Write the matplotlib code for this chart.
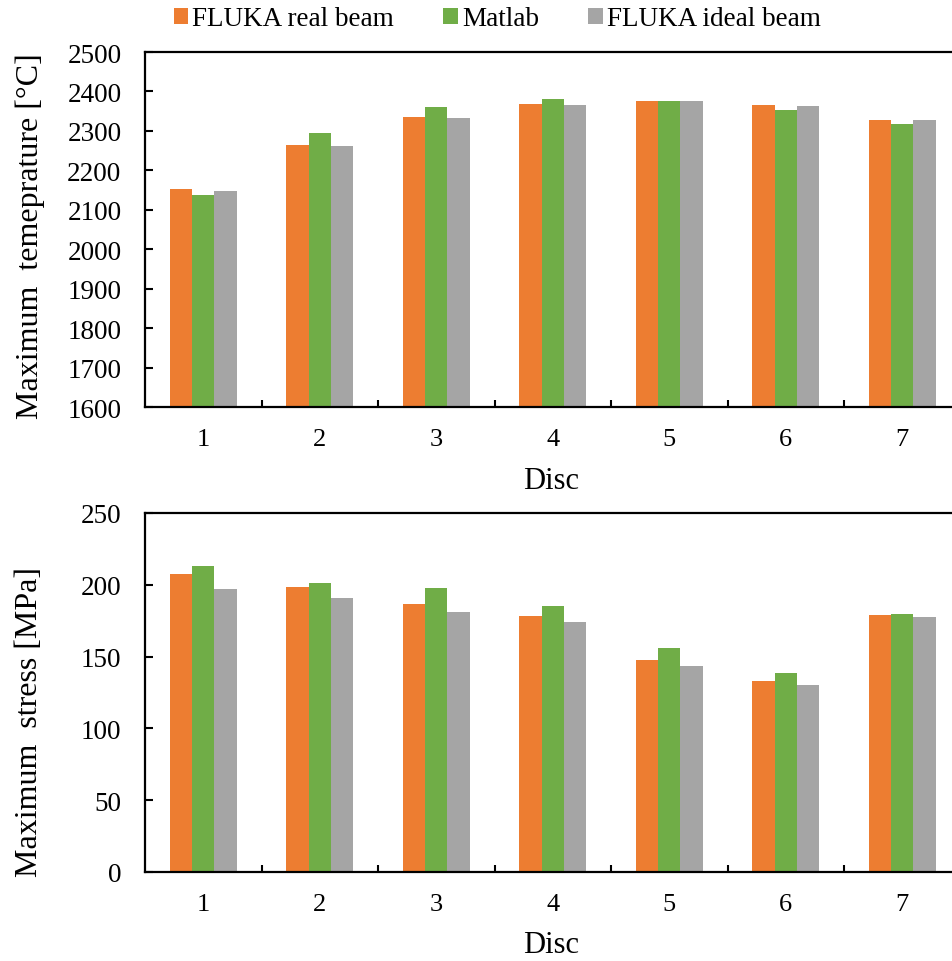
import numpy as np
import matplotlib
matplotlib.use("Agg")
import matplotlib.pyplot as plt
from matplotlib.patches import Patch
from matplotlib.ticker import FixedLocator, MultipleLocator

plt.rcParams["font.family"] = ["Liberation Serif", "DejaVu Serif"]

# ---- data ----
discs = [1, 2, 3, 4, 5, 6, 7]
series_names = ["FLUKA real beam", "Matlab", "FLUKA ideal beam"]
colors = ["#ED7D31", "#70AD47", "#A5A5A5"]

temp_fluka_real = [2153, 2263, 2334, 2367, 2377, 2365, 2328]
temp_matlab = [2137, 2294, 2360, 2382, 2377, 2354, 2317]
temp_fluka_ideal = [2148, 2261, 2332, 2365, 2377, 2362, 2328]

stress_fluka_real = [207.5, 198.2, 186.8, 178.4, 147.5, 132.9, 179.1]
stress_matlab = [212.8, 201.2, 197.5, 185.2, 155.7, 138.9, 179.8]
stress_fluka_ideal = [196.8, 190.8, 181.4, 173.8, 143.8, 129.9, 177.7]

W, H = 952, 962
fig = plt.figure(figsize=(W / 100, H / 100), dpi=100)


def px_axes(left, top, right, bottom):
    return fig.add_axes([left / W, 1 - bottom / H, (right - left) / W, (bottom - top) / H])


def draw_bars(ax, series, ylim, ystep):
    x = np.array(discs, dtype=float)
    bw = 0.193
    for i, (vals, c) in enumerate(zip(series, colors)):
        ax.bar(x + (i - 1) * bw, vals, width=bw, color=c, linewidth=0, zorder=2)
    ax.set_xlim(0.5, 7.5)
    ax.set_ylim(*ylim)
    ax.yaxis.set_major_locator(MultipleLocator(ystep))
    ax.xaxis.set_major_locator(FixedLocator(discs))
    ax.xaxis.set_minor_locator(FixedLocator([d + 0.5 for d in discs[:-1]]))
    ax.tick_params(axis="x", which="major", length=0, pad=15, labelsize=19)
    ax.tick_params(axis="x", which="minor", direction="in", length=5, width=1.5)
    ax.tick_params(axis="y", which="major", direction="in", length=5.5, width=1.5,
                   pad=17, labelsize=19.5)
    for s in ax.spines.values():
        s.set_linewidth(1.6)
        s.set_color("black")


ax1 = px_axes(145, 53, 960.5, 408)
draw_bars(ax1, [temp_fluka_real, temp_matlab, temp_fluka_ideal], (1600, 2500), 100)

ax2 = px_axes(145, 514, 960.5, 873)
draw_bars(ax2, [stress_fluka_real, stress_matlab, stress_fluka_ideal], (0, 250), 50)

# axis titles
fig.text(30 / W, 1 - 236 / H, "Maximum  temeprature [°C]", rotation=90,
         ha="center", va="center", fontsize=23)
fig.text(30 / W, 1 - 722 / H, "Maximum  stress [MPa]", rotation=90,
         ha="center", va="center", fontsize=23)
fig.text(551 / W, 1 - 482 / H, "Disc", ha="center", va="center", fontsize=22)
fig.text(551 / W, 1 - 946 / H, "Disc", ha="center", va="center", fontsize=22)

# legend
handles = [Patch(facecolor=c, edgecolor="none") for c in colors]
fig.legend(handles, series_names, loc="center", bbox_to_anchor=(497 / W, 1 - 20 / H),
           ncol=3, frameon=False, fontsize=19.5, handlelength=0.55, handleheight=0.55,
           handletextpad=0.15, columnspacing=1.8, borderpad=0)

fig.savefig("out.png", dpi=100)
